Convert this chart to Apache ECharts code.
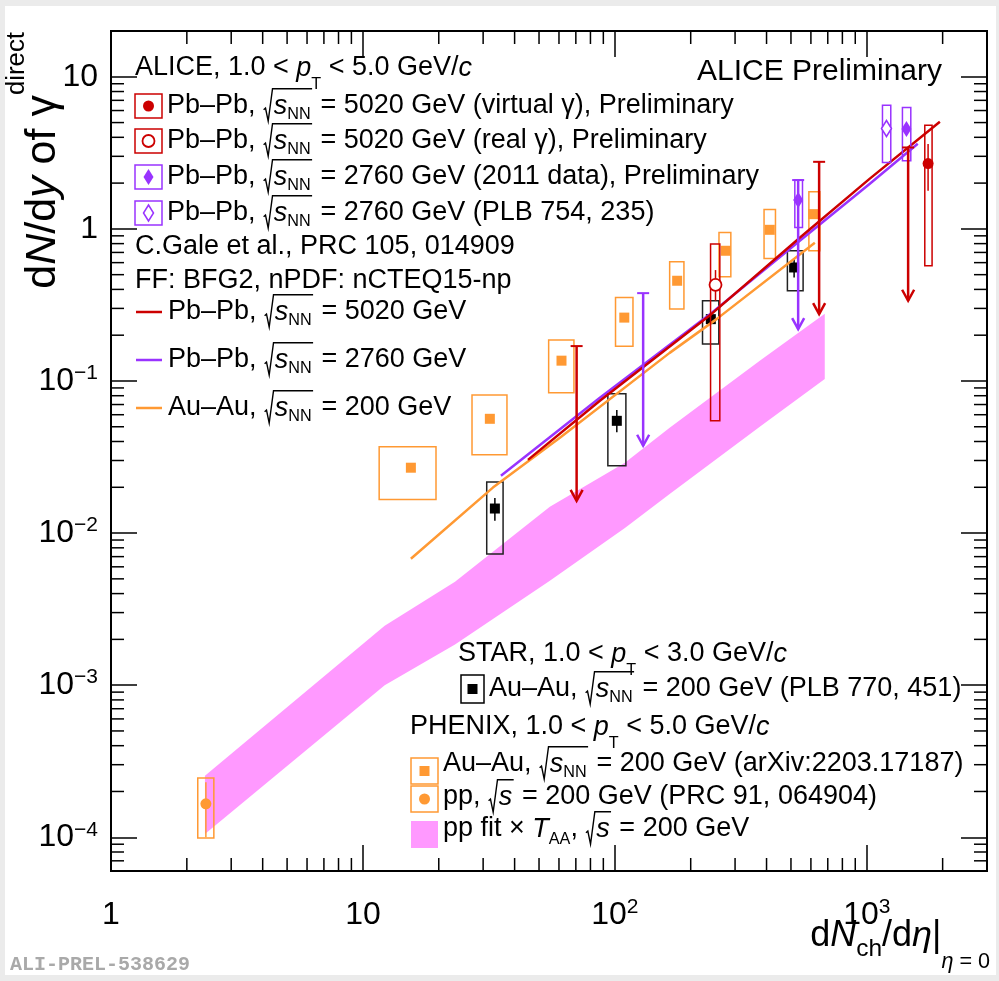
<!DOCTYPE html>
<html>
<head>
<meta charset="utf-8">
<script src="https://cdn.jsdelivr.net/npm/echarts@6/dist/echarts.min.js"></script>
<style>
  html, body { margin: 0; padding: 0; background: #ebebeb; }
  #chart { width: 999px; height: 981px; }
</style>
</head>
<body>
<div id="chart"></div>
<script>
// ---------------- data (x = dNch/deta, y = dN/dy of direct photons) ----------------

// PHENIX Au–Au 200 GeV (arXiv:2203.17187): points and systematic boxes
const phenixAuAuX    = [15.5, 31.9, 61.4, 109, 176.7, 275.7, 412, 612];
const phenixAuAuY    = [0.0269, 0.0564, 0.136, 0.261, 0.456, 0.718, 0.986, 1.25];
const phenixAuAuXLo  = [11.6, 27.1, 54.6, 100.6, 165, 259, 391, 589];
const phenixAuAuXHi  = [19.5, 37.3, 68.8, 118, 188, 288.6, 434, 651];
const phenixAuAuSysLo = [0.0166, 0.0327, 0.0836, 0.169, 0.297, 0.484, 0.639, 0.718];
const phenixAuAuSysHi = [0.0369, 0.081, 0.186, 0.354, 0.608, 0.947, 1.34, 1.754];

// PHENIX pp 200 GeV (PRC 91, 064904)
const phenixPpX = [2.38];
const phenixPpY = [1.66e-4];
const phenixPpXLo = [2.21];
const phenixPpXHi = [2.56];
const phenixPpSysLo = [9.9e-5];
const phenixPpSysHi = [2.45e-4];
const phenixPpStatLo = [1.0e-4];
const phenixPpStatHi = [2.3e-4];

// STAR Au–Au 200 GeV (PLB 770, 451)
const starX     = [33.4, 101.8, 240.4, 514.6];
const starY     = [0.0145, 0.0547, 0.255, 0.5575];
const starXLo   = [31.0, 93.8, 222.8, 484];
const starXHi   = [36.0, 110.6, 258.6, 558.7];
const starSysLo = [0.00728, 0.0277, 0.1748, 0.392];
const starSysHi = [0.0217, 0.0824, 0.337, 0.718];
const starStatLo = [0.01205, 0.046, 0.242, 0.479];
const starStatHi = [0.0170, 0.0645, 0.268, 0.633];

// ALICE Pb–Pb 5020 GeV, virtual photons
const alice5020vX = [1751];
const alice5020vY = [2.69];
const alice5020vXLo = [1699];
const alice5020vXHi = [1816];
const alice5020vSysLo = [0.572];
const alice5020vSysHi = [4.81];
const alice5020vStatLo = [1.78];
const alice5020vStatHi = [3.61];

// ALICE Pb–Pb 5020 GeV, real photons
const alice5020rX = [250.9];
const alice5020rY = [0.429];
const alice5020rXLo = [239.8];
const alice5020rXHi = [261];
const alice5020rSysLo = [0.0547];
const alice5020rSysHi = [0.794];
const alice5020rStatLo = [0.337];
const alice5020rStatHi = [0.536];

// ALICE Pb–Pb 5020 GeV upper limits: x, limit, arrow tip
const alice5020UlX   = [70.5, 646.8, 1459];
const alice5020UlTop = [0.1696, 2.76, 3.43];
const alice5020UlTip = [0.0163, 0.275, 0.337];

// ALICE Pb–Pb 2760 GeV (2011 data)
const alice2760X = [534, 1437];
const alice2760Y = [1.547, 4.53];
const alice2760XLo = [518, 1385];
const alice2760XHi = [555.6, 1495];
const alice2760SysLo = [1.021, 2.80];
const alice2760SysHi = [2.094, 6.29];

// ALICE Pb–Pb 2760 GeV (2011 data) upper limits
const alice2760UlX   = [129.5, 534];
const alice2760UlTop = [0.378, 2.094];
const alice2760UlTip = [0.0375, 0.219];

// ALICE Pb–Pb 2760 GeV (PLB 754, 235)
const alicePlbX = [1197];
const alicePlbY = [4.57];
const alicePlbXLo = [1154];
const alicePlbXHi = [1245];
const alicePlbSysLo = [2.73];
const alicePlbSysHi = [6.51];

// pp fit x T_AA band, 200 GeV
const bandX  = [2.36, 12.2, 23.2, 55.2, 109.6, 165, 376, 681];
const bandLo = [1.05e-4, 1.0e-3, 1.85e-3, 4.86e-3, 0.0108, 0.0181, 0.050, 0.103];
const bandHi = [2.54e-4, 2.46e-3, 4.78e-3, 0.0149, 0.029, 0.0492, 0.136, 0.277];

// C. Gale et al. calculations
const gale5020X = [45.2, 87.2, 242.6, 542, 1028, 1950];
const gale5020Y = [0.0303, 0.0741, 0.277, 0.874, 2.14, 5.06];
const gale2760X = [35.3, 87.2, 242.6, 542, 1028, 1593];
const gale2760Y = [0.0238, 0.0776, 0.281, 0.835, 1.98, 3.63];
const gale200X  = [15.5, 32.8, 60.5, 165, 254, 622];
const gale200Y  = [0.00678, 0.0199, 0.0423, 0.153, 0.256, 0.81];

// axis ranges
const xRange = [1, 3000];
const yRange = [6e-5, 20];

// ---------------- colours ----------------
const RED = '#cc0000';
const PURPLE = '#9933ff';
const ORANGE = '#ff9933';
const PINK = '#ff99ff';
const BLACK = '#000000';

// ---------------- text helpers (sub/superscripts, radicals) ----------------
const FAMILY = '"Liberation Sans", Arial, Helvetica, sans-serif';
const measureCtx = document.createElement('canvas').getContext('2d');
function fontOf(size, italic) { return (italic ? 'italic ' : '') + size.toFixed(1) + 'px ' + FAMILY; }
function textWidth(t, size, italic) { measureCtx.font = fontOf(size, italic); return measureCtx.measureText(t).width; }

function N(t) { return { t: t, it: false, dy: 0, sc: 1 }; }
function I(t) { return { t: t, it: true, dy: 0, sc: 1 }; }
function SUB(t, dy, it, sc) { return { t: t, it: !!it, dy: dy == null ? 0.35 : dy, sc: sc || 0.6 }; }
function SUP(t, dy, sc) { return { t: t, it: false, dy: dy == null ? -0.45 : dy, sc: sc || 0.6 }; }
function SQRT() { return { sqrt: Array.prototype.slice.call(arguments) }; }

function layoutTokens(tokens, size, x0, y0, color, out) {
  let x = x0;
  tokens.forEach(function (tk) {
    if (tk.sqrt) {
      const start = x + 0.02 * size;
      const inner = start + 0.38 * size;
      const end = layoutTokens(tk.sqrt, size, inner, y0, color, out) + 0.05 * size;
      const top = y0 - 0.64 * size;
      out.push({
        type: 'polyline', silent: true, z: 100,
        shape: { points: [
          [start, y0 + 0.14 * size], [start + 0.07 * size, y0 + 0.08 * size],
          [start + 0.17 * size, y0 + 0.56 * size], [start + 0.33 * size, top], [end, top]
        ] },
        style: { stroke: color, lineWidth: 1.4, fill: null }
      });
      x = end + 0.03 * size;
      return;
    }
    const fs = size * tk.sc;
    out.push({
      type: 'text', silent: true, z: 100, x: x, y: y0 + tk.dy * size,
      style: { text: tk.t, font: fontOf(fs, tk.it), fill: color, align: 'left', verticalAlign: 'middle' }
    });
    x += textWidth(tk.t, fs, tk.it);
  });
  return x;
}
function textLine(tokens, size, x, y, color, anchorRight) {
  const tmp = [];
  const w = layoutTokens(tokens, size, 0, 0, color || BLACK, tmp);
  const ox = anchorRight ? x - w : x;
  return { type: 'group', x: ox, y: y, silent: true, children: tmp };
}

// ---------------- marker shapes ----------------
function marker(kind, cx, cy, color) {
  switch (kind) {
    case 'square':
      return { type: 'rect', shape: { x: cx - 5, y: cy - 5, width: 10, height: 10 }, style: { fill: color } };
    case 'circle':
      return { type: 'circle', shape: { cx: cx, cy: cy, r: 5.5 }, style: { fill: color } };
    case 'ocircle':
      return { type: 'circle', shape: { cx: cx, cy: cy, r: 6 }, style: { fill: '#fff', stroke: color, lineWidth: 1.8 } };
    case 'diamond':
      return { type: 'polygon', shape: { points: [[cx, cy - 8], [cx + 5, cy], [cx, cy + 8], [cx - 5, cy]] }, style: { fill: color } };
    case 'odiamond':
      return { type: 'polygon', shape: { points: [[cx, cy - 8], [cx + 5, cy], [cx, cy + 8], [cx - 5, cy]] }, style: { fill: '#fff', stroke: color, lineWidth: 1.5 } };
  }
}

// ---------------- series builders ----------------
function rowsOf(X, Y, XLo, XHi, SLo, SHi, StLo, StHi) {
  return X.map(function (x, i) {
    return [x, Y[i], XLo[i], XHi[i], SLo[i], SHi[i],
      StLo ? StLo[i] : null, StHi ? StHi[i] : null];
  });
}
function boxSeries(name, rows, kind, color, boxColor, z) {
  return {
    type: 'custom', name: name, data: rows, z: z || 2, silent: true,
    encode: { x: 0, y: 1 },
    renderItem: function (params, api) {
      const c = api.coord([api.value(0), api.value(1)]);
      const a = api.coord([api.value(2), api.value(5)]);
      const b = api.coord([api.value(3), api.value(4)]);
      const kids = [{
        type: 'rect',
        shape: { x: a[0], y: a[1], width: b[0] - a[0], height: b[1] - a[1] },
        style: { fill: null, stroke: boxColor || color, lineWidth: 1.5 }
      }];
      const sLo = api.value(6), sHi = api.value(7);
      if (sLo != null && !isNaN(sLo) && sLo > 0) {
        const p = api.coord([api.value(0), sHi]);
        const q = api.coord([api.value(0), sLo]);
        kids.push({ type: 'line', shape: { x1: c[0], y1: p[1], x2: c[0], y2: q[1] }, style: { stroke: color, lineWidth: 1.5 } });
      }
      kids.push(marker(kind, c[0], c[1], color));
      return { type: 'group', children: kids };
    }
  };
}
function arrowSeries(name, X, Top, Tip, color) {
  return {
    type: 'custom', name: name, z: 4, silent: true,
    data: X.map(function (x, i) { return [x, Top[i], Tip[i]]; }),
    encode: { x: 0, y: [1, 2] },
    renderItem: function (params, api) {
      const t = api.coord([api.value(0), api.value(1)]);
      const p = api.coord([api.value(0), api.value(2)]);
      return { type: 'group', children: [
        { type: 'line', shape: { x1: t[0], y1: t[1], x2: p[0], y2: p[1] }, style: { stroke: color, lineWidth: 2.5 } },
        { type: 'line', shape: { x1: t[0] - 6, y1: t[1], x2: t[0] + 6, y2: t[1] }, style: { stroke: color, lineWidth: 2 } },
        { type: 'polyline', shape: { points: [[p[0] - 6, p[1] - 11], [p[0], p[1]], [p[0] + 6, p[1] - 11]] },
          style: { stroke: color, lineWidth: 2.5, fill: null } }
      ] };
    }
  };
}
function curveSeries(name, X, Y, color) {
  return {
    type: 'line', name: name, z: 3, silent: true, symbol: 'none', smooth: false,
    data: X.map(function (x, i) { return [x, Y[i]]; }),
    lineStyle: { color: color, width: 2.5 }
  };
}

// minor tick positions (2..9 in each decade)
const xMinor = [], yMinor = [];
for (let e = 0; e <= 3; e++) for (let m = 2; m <= 9; m++) { const v = m * Math.pow(10, e); if (v < xRange[1] * 0.99) xMinor.push([v, 1]); }
for (let e = -5; e <= 1; e++) for (let m = 2; m <= 9; m++) { const v = m * Math.pow(10, e); if (v > yRange[0] * 1.01 && v < yRange[1] * 0.99) yMinor.push([1, v]); }

const MINOR = 13;
const minorXSeries = {
  type: 'custom', silent: true, z: 5, data: xMinor, encode: { x: 0, y: 1 },
  renderItem: function (params, api) {
    const cs = params.coordSys;
    const px = api.coord([api.value(0), 1])[0];
    const st = { stroke: BLACK, lineWidth: 1.5 };
    return { type: 'group', children: [
      { type: 'line', shape: { x1: px, y1: cs.y + cs.height, x2: px, y2: cs.y + cs.height - MINOR }, style: st },
      { type: 'line', shape: { x1: px, y1: cs.y, x2: px, y2: cs.y + MINOR }, style: st }
    ] };
  }
};
const minorYSeries = {
  type: 'custom', silent: true, z: 5, data: yMinor, encode: { x: 0, y: 1 },
  renderItem: function (params, api) {
    const cs = params.coordSys;
    const py = api.coord([1, api.value(1)])[1];
    const st = { stroke: BLACK, lineWidth: 1.5 };
    return { type: 'group', children: [
      { type: 'line', shape: { x1: cs.x, y1: py, x2: cs.x + MINOR, y2: py }, style: st },
      { type: 'line', shape: { x1: cs.x + cs.width, y1: py, x2: cs.x + cs.width - MINOR, y2: py }, style: st }
    ] };
  }
};

const bandSeries = {
  type: 'custom', name: 'pp fit x TAA', z: 1, silent: true,
  data: bandX.map(function (x, i) { return [x, bandLo[i], bandHi[i]]; }),
  encode: { x: 0, y: [1, 2] },
  renderItem: function (params, api) {
    if (params.dataIndex !== 0) return null;
    const upper = bandX.map(function (x, i) { return api.coord([x, bandHi[i]]); });
    const lower = bandX.map(function (x, i) { return api.coord([x, bandLo[i]]); }).reverse();
    return { type: 'polygon', shape: { points: upper.concat(lower) }, style: { fill: PINK } };
  }
};

// ---------------- axis labels ----------------
function decadeLabel(v) {
  const l = Math.log10(v);
  const e = Math.round(l);
  if (Math.abs(l - e) > 1e-6) return '';
  if (e === 0) return '{b|1}';
  if (e === 1) return '{b|10}';
  return '{b|10}{s|' + (e < 0 ? '\u2212' + (-e) : e) + '}';
}
const labelRich = {
  b: { fontSize: 32, fontFamily: FAMILY, color: BLACK, lineHeight: 36 },
  s: { fontSize: 21, fontFamily: FAMILY, color: BLACK, lineHeight: 16, verticalAlign: 'top' }
};
const MAJOR = 26;
function logAxis(range, pos, showLabel, margin) {
  return {
    type: 'log', logBase: 10, min: range[0], max: range[1], position: pos,
    axisLine: { show: false }, splitLine: { show: false }, minorTick: { show: false },
    axisTick: { show: true, inside: true, length: MAJOR, lineStyle: { color: BLACK, width: 1.5 } },
    axisLabel: { show: showLabel, margin: margin, formatter: decadeLabel, rich: labelRich,
      showMinLabel: true, showMaxLabel: false }
  };
}

// ---------------- texts and legend ----------------
const gfx = [];
gfx.push({ type: 'rect', z: -100, silent: true, shape: { x: 5, y: 6, width: 991, height: 969 }, style: { fill: '#ffffff' } });

// axis titles
(function () {
  const size = 43;
  const tmp = [];
  const w = layoutTokens([N('d'), I('N'), N('/d'), I('y'), N(' of '), N('\u03b3'), SUP('direct', -0.6, 0.6)], size, 0, 0, BLACK, tmp);
  gfx.push({ type: 'group', x: 43, y: 32 + w, rotation: Math.PI / 2, silent: true, children: tmp });
})();
gfx.push(textLine([N('d'), I('N'), SUB('ch', 0.36, false, 0.68), N('/d'), I('\u03b7'), N('|'),
  { t: '\u03b7', it: true, dy: 0.72, sc: 0.6 }, { t: ' = 0', it: false, dy: 0.72, sc: 0.6 }], 36, 990, 936, BLACK, true));

gfx.push(textLine([N('ALICE Preliminary')], 30, 942, 72, BLACK, true));
gfx.push({ type: 'text', silent: true, z: 100, x: 10, y: 965,
  style: { text: 'ALI-PREL-538629', font: 'bold 20px "Liberation Mono", "DejaVu Sans Mono", monospace', fill: '#a9a9a9', align: 'left', verticalAlign: 'middle' } });

const LS = 27;
const SNN = SQRT(I('s'), SUB('NN', 0.33));
const S = SQRT(I('s'));

// ALICE block
gfx.push(textLine([N('ALICE, 1.0 < '), I('p'), SUB('T', 0.62), N(' < 5.0 GeV/'), I('c')], LS, 135, 68));
const aliceRows = [
  { y: 106, kind: 'circle', color: RED, txt: [N('Pb\u2013Pb, '), SNN, N(' = 5020 GeV (virtual \u03b3), Preliminary')] },
  { y: 141, kind: 'ocircle', color: RED, txt: [N('Pb\u2013Pb, '), SNN, N(' = 5020 GeV (real \u03b3), Preliminary')] },
  { y: 177, kind: 'diamond', color: PURPLE, txt: [N('Pb\u2013Pb, '), SNN, N(' = 2760 GeV (2011 data), Preliminary')] },
  { y: 213, kind: 'odiamond', color: PURPLE, txt: [N('Pb\u2013Pb, '), SNN, N(' = 2760 GeV (PLB 754, 235)')] }
];
aliceRows.forEach(function (r) {
  gfx.push({ type: 'rect', silent: true, z: 90, shape: { x: 135, y: r.y - 12, width: 27, height: 24 }, style: { fill: '#fff', stroke: r.color, lineWidth: 1.5 } });
  const m = marker(r.kind, 148.5, r.y, r.color); m.z = 91; m.silent = true; gfx.push(m);
  gfx.push(textLine(r.txt, LS, 167, r.y));
});
gfx.push(textLine([N('C.Gale et al., PRC 105, 014909')], LS, 135, 247));
gfx.push(textLine([N('FF: BFG2, nPDF: nCTEQ15-np')], LS, 135, 281));
const galeRows = [
  { y: 312, color: RED, txt: [N('Pb\u2013Pb, '), SNN, N(' = 5020 GeV')] },
  { y: 360, color: PURPLE, txt: [N('Pb\u2013Pb, '), SNN, N(' = 2760 GeV')] },
  { y: 408, color: ORANGE, txt: [N('Au\u2013Au, '), SNN, N(' = 200 GeV')] }
];
galeRows.forEach(function (r) {
  gfx.push({ type: 'line', silent: true, z: 90, shape: { x1: 136, y1: r.y, x2: 162, y2: r.y }, style: { stroke: r.color, lineWidth: 2.5 } });
  gfx.push(textLine(r.txt, LS, 168, r.y));
});

// STAR / PHENIX block
gfx.push(textLine([N('STAR, 1.0 < '), I('p'), SUB('T', 0.62), N(' < 3.0 GeV/'), I('c')], LS, 458, 654));
gfx.push({ type: 'rect', silent: true, z: 90, shape: { x: 461, y: 675, width: 23, height: 28 }, style: { fill: '#fff', stroke: BLACK, lineWidth: 1.5 } });
(function () { const m = marker('square', 472.5, 689, BLACK); m.z = 91; m.silent = true; gfx.push(m); })();
gfx.push(textLine([N('Au\u2013Au, '), SNN, N(' = 200 GeV (PLB 770, 451)')], LS, 489, 689));
gfx.push(textLine([N('PHENIX, 1.0 < '), I('p'), SUB('T', 0.62), N(' < 5.0 GeV/'), I('c')], LS, 410, 727));
gfx.push({ type: 'rect', silent: true, z: 90, shape: { x: 411, y: 758, width: 27, height: 26 }, style: { fill: '#fff', stroke: ORANGE, lineWidth: 1.5 } });
(function () { const m = marker('square', 424.5, 771, ORANGE); m.z = 91; m.silent = true; gfx.push(m); })();
gfx.push(textLine([N('Au\u2013Au, '), SNN, N(' = 200 GeV (arXiv:2203.17187)')], LS, 443, 764));
gfx.push({ type: 'rect', silent: true, z: 90, shape: { x: 411, y: 786, width: 27, height: 26 }, style: { fill: '#fff', stroke: ORANGE, lineWidth: 1.5 } });
(function () { const m = marker('circle', 424.5, 799, ORANGE); m.z = 91; m.silent = true; gfx.push(m); })();
gfx.push(textLine([N('pp, '), S, N(' = 200 GeV (PRC 91, 064904)')], LS, 443, 797));
gfx.push({ type: 'rect', silent: true, z: 90, shape: { x: 411, y: 821, width: 27, height: 27 }, style: { fill: PINK } });
gfx.push(textLine([N('pp fit \u00d7 '), I('T'), SUB('AA', 0.38), N(', '), S, N(' = 200 GeV')], LS, 443, 829));

// ---------------- chart ----------------
const chart = echarts.init(document.getElementById('chart'), null, { renderer: 'canvas' });
chart.setOption({
  animation: false,
  backgroundColor: '#ebebeb',
  grid: { left: 111, top: 31, width: 876, height: 840, show: true, borderColor: BLACK, borderWidth: 2, backgroundColor: 'transparent' },
  xAxis: [logAxis(xRange, 'bottom', true, 26), logAxis(xRange, 'top', false, 8)],
  yAxis: [logAxis(yRange, 'left', true, 13), logAxis(yRange, 'right', false, 8)],
  series: [
    bandSeries,
    minorXSeries,
    minorYSeries,
    boxSeries('PHENIX Au–Au', rowsOf(phenixAuAuX, phenixAuAuY, phenixAuAuXLo, phenixAuAuXHi, phenixAuAuSysLo, phenixAuAuSysHi), 'square', ORANGE),
    boxSeries('PHENIX pp', rowsOf(phenixPpX, phenixPpY, phenixPpXLo, phenixPpXHi, phenixPpSysLo, phenixPpSysHi, phenixPpStatLo, phenixPpStatHi), 'circle', ORANGE),
    boxSeries('STAR Au–Au', rowsOf(starX, starY, starXLo, starXHi, starSysLo, starSysHi, starStatLo, starStatHi), 'square', BLACK, '#222'),
    curveSeries('Gale 200', gale200X, gale200Y, ORANGE),
    curveSeries('Gale 2760', gale2760X, gale2760Y, PURPLE),
    curveSeries('Gale 5020', gale5020X, gale5020Y, RED),
    boxSeries('ALICE 5020 virtual', rowsOf(alice5020vX, alice5020vY, alice5020vXLo, alice5020vXHi, alice5020vSysLo, alice5020vSysHi, alice5020vStatLo, alice5020vStatHi), 'circle', RED, RED, 4),
    boxSeries('ALICE 5020 real', rowsOf(alice5020rX, alice5020rY, alice5020rXLo, alice5020rXHi, alice5020rSysLo, alice5020rSysHi, alice5020rStatLo, alice5020rStatHi), 'ocircle', RED, RED, 4),
    boxSeries('ALICE 2760', rowsOf(alice2760X, alice2760Y, alice2760XLo, alice2760XHi, alice2760SysLo, alice2760SysHi), 'diamond', PURPLE, PURPLE, 4),
    boxSeries('ALICE 2760 PLB', rowsOf(alicePlbX, alicePlbY, alicePlbXLo, alicePlbXHi, alicePlbSysLo, alicePlbSysHi), 'odiamond', PURPLE, PURPLE, 4),
    arrowSeries('ALICE 5020 limits', alice5020UlX, alice5020UlTop, alice5020UlTip, RED),
    arrowSeries('ALICE 2760 limits', alice2760UlX, alice2760UlTop, alice2760UlTip, PURPLE)
  ],
  graphic: { elements: gfx }
});
</script>
</body>
</html>
